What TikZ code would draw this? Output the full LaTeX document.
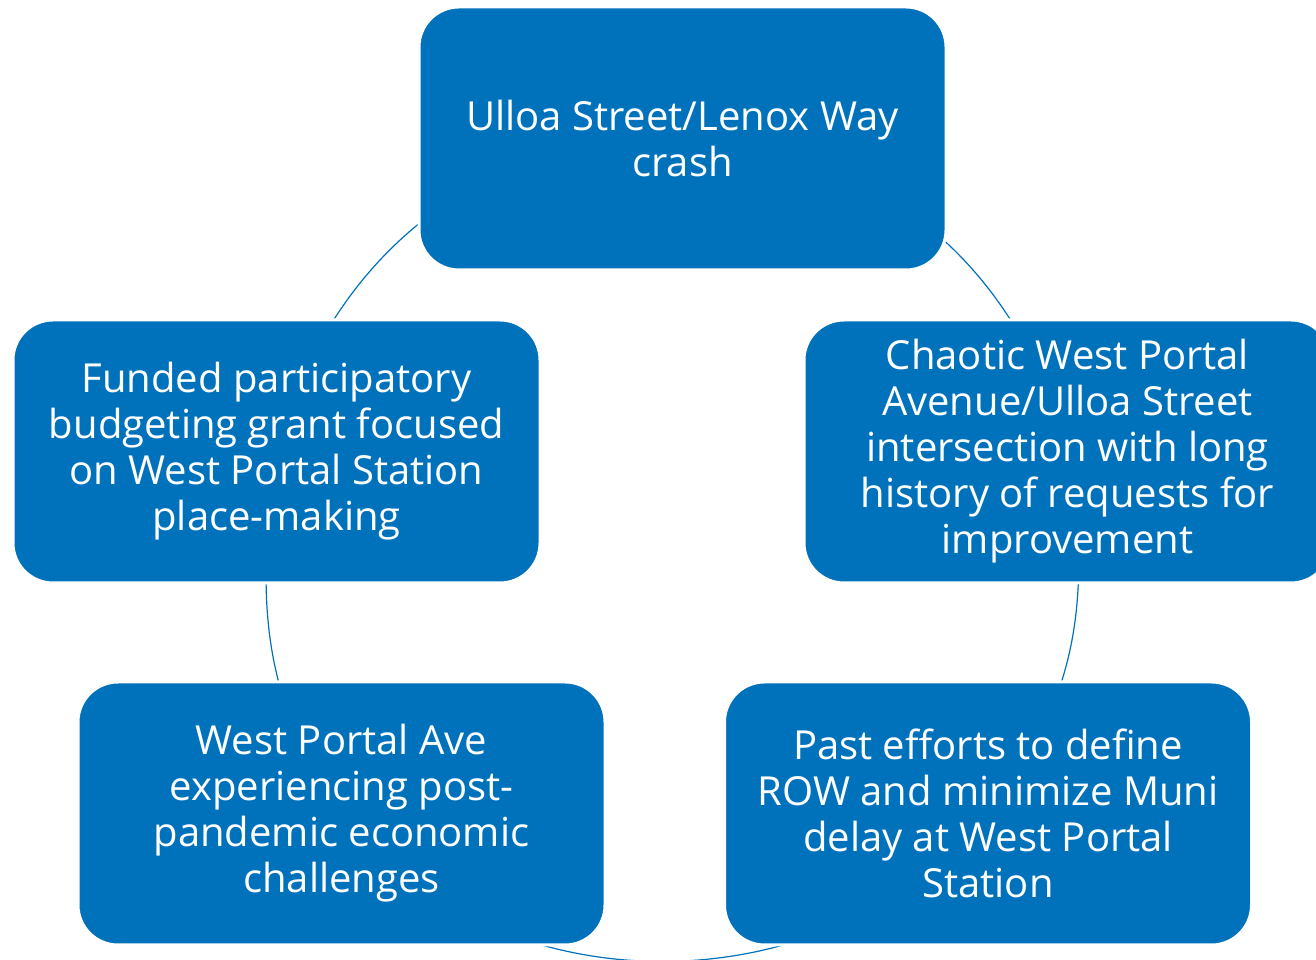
\documentclass[tikz,border=0pt]{standalone}
\usepackage{fontspec}
\setmainfont{Open Sans}
\usepackage{tikz}
\usetikzlibrary{backgrounds}
\definecolor{cycleblue}{RGB}{0,114,188}
\tikzset{
  cyclebox/.style={draw=white, line width=3pt, rectangle, rounded corners=40pt, fill=cycleblue,
    text=white, minimum width=527pt, minimum height=263pt, align=center,
    font=\fontsize{40}{46}\selectfont},
  cyclearc/.style={draw=cycleblue, line width=1.2pt}
}
\begin{document}
\begin{tikzpicture}[x=1pt,y=1pt]
    \useasboundingbox (0,0) rectangle (1316,960);
    \node[cyclebox] (crash) at (682.5,821.5) {Ulloa Street/Lenox Way\\crash};
    \node[cyclebox] (intersection) at (1067.5,508.5) {Chaotic West Portal\\Avenue/Ulloa Street\\intersection with long\\history of requests for\\improvement};
    \node[cyclebox] (efforts) at (988,146.5) {Past efforts to define\\ROW and minimize Muni\\delay at West Portal\\Station};
    \node[cyclebox] (economy) at (341.5,146.5) {West Portal Ave\\experiencing post-\\pandemic economic\\challenges};
    \node[cyclebox] (grant) at (276.5,508.5) {Funded participatory\\budgeting grant focused\\on West Portal Station\\place-making};
    % ring behind the boxes
    \begin{scope}[on background layer]
        \draw[cyclearc] (crash.center) to[out=-2, in=105] (intersection.center);
        \draw[cyclearc] (intersection.center) to[out=-80, in=51] (efforts.center);
        \draw[cyclearc] (efforts.center) to[out=-129, in=-52] (economy.center);
        \draw[cyclearc] (economy.center) to[out=125, in=-98] (grant.center);
        \draw[cyclearc] (grant.center) to[out=75, in=178] (crash.center);
    \end{scope}
\end{tikzpicture}
\end{document}
